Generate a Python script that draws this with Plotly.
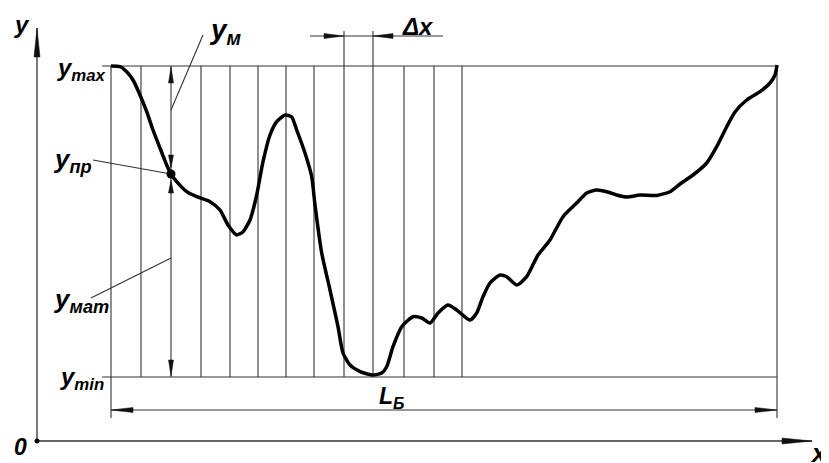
import plotly.graph_objects as go

# ---------------- data (units: drawing units, origin at O) ----------------
profile_x = [74, 83, 89.7, 96, 103, 109.7, 116, 123, 129.7, 134, 139.7, 149.7, 159.7, 173, 183, 191,
             199.7, 206, 213, 219.7, 226, 233, 239.7, 248, 254.7, 259.7, 268, 274.7, 278, 284.7, 293,
             301, 306, 313, 323, 336, 344.7, 349.7, 356, 364.7, 376, 384.7, 393, 401, 411, 419.7,
             433, 439.7, 446, 453, 463, 469.7, 479.7, 489.7, 501, 513, 526, 539.7, 549.7, 559.7,
             569.7, 579.7, 589.7, 603, 619.7, 633, 643, 656, 669.7, 679.7, 689.7, 698, 709.7, 723,
             733, 738, 740]
profile_y = [375, 374.3, 369.3, 361, 346, 329.3, 311, 293, 276, 267, 259.3, 249.3, 244.3, 239.3, 231,
             216, 206, 209.3, 221, 246, 279.3, 306, 319.3, 326, 324, 311, 288, 264.3, 236, 188, 151,
             114.3, 88, 76, 69.3, 66, 68, 74.3, 94.3, 114.3, 124.3, 123, 118, 128, 136, 131, 121,
             128, 144.3, 158, 166, 164.3, 156, 164.3, 186, 201, 224.3, 238, 248, 251, 249.3, 246,
             244, 246, 245.5, 249.3, 257, 266, 278, 294.3, 314.3, 329, 341, 349.3, 358, 366, 376]

grid_x = [74, 104, 134, 164, 193, 221, 249, 277, 307, 336, 367, 397, 425]
x_start, x_end = 74, 740
y_max_level, y_min_level = 375, 64
x_meas, y_pr = 134, 267
dx_left, dx_right = 307, 336

labels = {
    "y_axis": "<b><i>y</i></b>",
    "x_axis": "<b><i>x</i></b>",
    "origin": "<b><i>0</i></b>",
    "ymax": "<b><i>y<sub>max</sub></i></b>",
    "ymin": "<b><i>y<sub>min</sub></i></b>",
    "ypr": "<b><i>y<sub>пр</sub></i></b>",
    "ymat": "<b><i>y<sub>мат</sub></i></b>",
    "ym": "<b><i>y<sub>м</sub></i></b>",
    "dx": "<b><i>Δx</i></b>",
    "LB": "<b><i>L<sub>Б</sub></i></b>",
}

# ---------------- figure ----------------
fig = go.Figure()
LINE = dict(color="#333333", width=1.1)


def seg(x0, y0, x1, y1, line=LINE):
    fig.add_trace(go.Scatter(x=[x0, x1], y=[y0, y1], mode="lines", line=line,
                             hoverinfo="skip", showlegend=False))


def arrow(tx, ty, ux, uy, length, half):
    # tip at (tx,ty), pointing in direction (ux,uy)
    bx, by = tx - ux * length, ty - uy * length
    px, py = -uy * half, ux * half
    fig.add_trace(go.Scatter(x=[tx, bx + px, bx - px, tx], y=[ty, by + py, by - py, ty],
                             mode="lines", fill="toself", fillcolor="#111",
                             line=dict(color="#111", width=0.5),
                             hoverinfo="skip", showlegend=False))


# coordinate axes
seg(0, 0, 775, 0, dict(color="#333333", width=1.3))
seg(0, 0, 0, 413, dict(color="#333333", width=1.3))
arrow(775, 0, 1, 0, 30, 3)
arrow(0, 413, 0, 1, 29, 3)

# y_max / y_min levels
seg(65, y_max_level, x_end, y_max_level)
seg(65, y_min_level, x_end, y_min_level)

# grid lines (step Δx)
for gx in grid_x:
    if gx == x_meas:
        continue
    top = 410 if gx in (dx_left, dx_right) else y_max_level
    bottom = 23 if gx == x_start else y_min_level
    seg(gx, bottom, gx, top)

# right boundary
seg(x_end, 23, x_end, y_max_level)

# Δx dimension
seg(273, 405, 406, 405)
arrow(dx_left, 405, 1, 0, 20, 2.5)
arrow(dx_right, 405, -1, 0, 20, 2.5)

# L_Б dimension
seg(x_start, 31, x_end, 31)
arrow(x_start, 31, -1, 0, 22, 2.5)
arrow(x_end, 31, 1, 0, 22, 2.5)

# measurement line with y_м and y_мат dimensions
seg(x_meas, y_min_level, x_meas, y_max_level)
arrow(x_meas, y_max_level - 1, 0, 1, 16, 2.5)
arrow(x_meas, y_pr + 6, 0, -1, 13, 2.5)
arrow(x_meas, y_pr - 6, 0, 1, 13, 2.5)
arrow(x_meas, y_min_level + 1, 0, -1, 16, 2.5)

# leader lines
seg(x_meas, 331, 166, 406)
seg(56, 281, x_meas, y_pr)
seg(54, 143, x_meas, 183)

# profile curve
fig.add_trace(go.Scatter(x=profile_x, y=profile_y, mode="lines",
                         line=dict(color="#000", width=3.5, shape="spline", smoothing=0.6),
                         hoverinfo="skip", showlegend=False))

# point y_пр
fig.add_trace(go.Scatter(x=[x_meas], y=[y_pr], mode="markers",
                         marker=dict(color="#000", size=9), hoverinfo="skip", showlegend=False))
# origin dot
fig.add_trace(go.Scatter(x=[0], y=[0], mode="markers",
                         marker=dict(color="#000", size=5), hoverinfo="skip", showlegend=False))

FONT = "Liberation Sans, Arial, sans-serif"


def label(key, x, y, size):
    fig.add_annotation(x=x, y=y, xref="x", yref="y", text=labels[key], showarrow=False,
                       xanchor="left", yanchor="middle",
                       font=dict(family=FONT, size=size, color="#000"))


label("y_axis", -25, 417, 24)
label("x_axis", 771, -12, 26)
label("origin", -25, -6, 23)
label("ymax", 18, 372, 24)
label("ymin", 21, 63, 24)
label("ypr", 14, 281, 26)
label("ymat", 14, 141, 26)
label("ym", 170, 410, 28)
label("dx", 363, 415, 24)
label("LB", 340, 44, 23)

# page body has an 8px margin: figure is 821x455 so it fills the 829x463 window
fig.update_xaxes(range=[-29, 792], visible=False, fixedrange=True)
fig.update_yaxes(range=[-22, 433], visible=False, fixedrange=True)
fig.update_layout(width=821, height=455, margin=dict(l=0, r=0, t=0, b=0),
                  paper_bgcolor="white", plot_bgcolor="white")

fig.write_html("out.html")
